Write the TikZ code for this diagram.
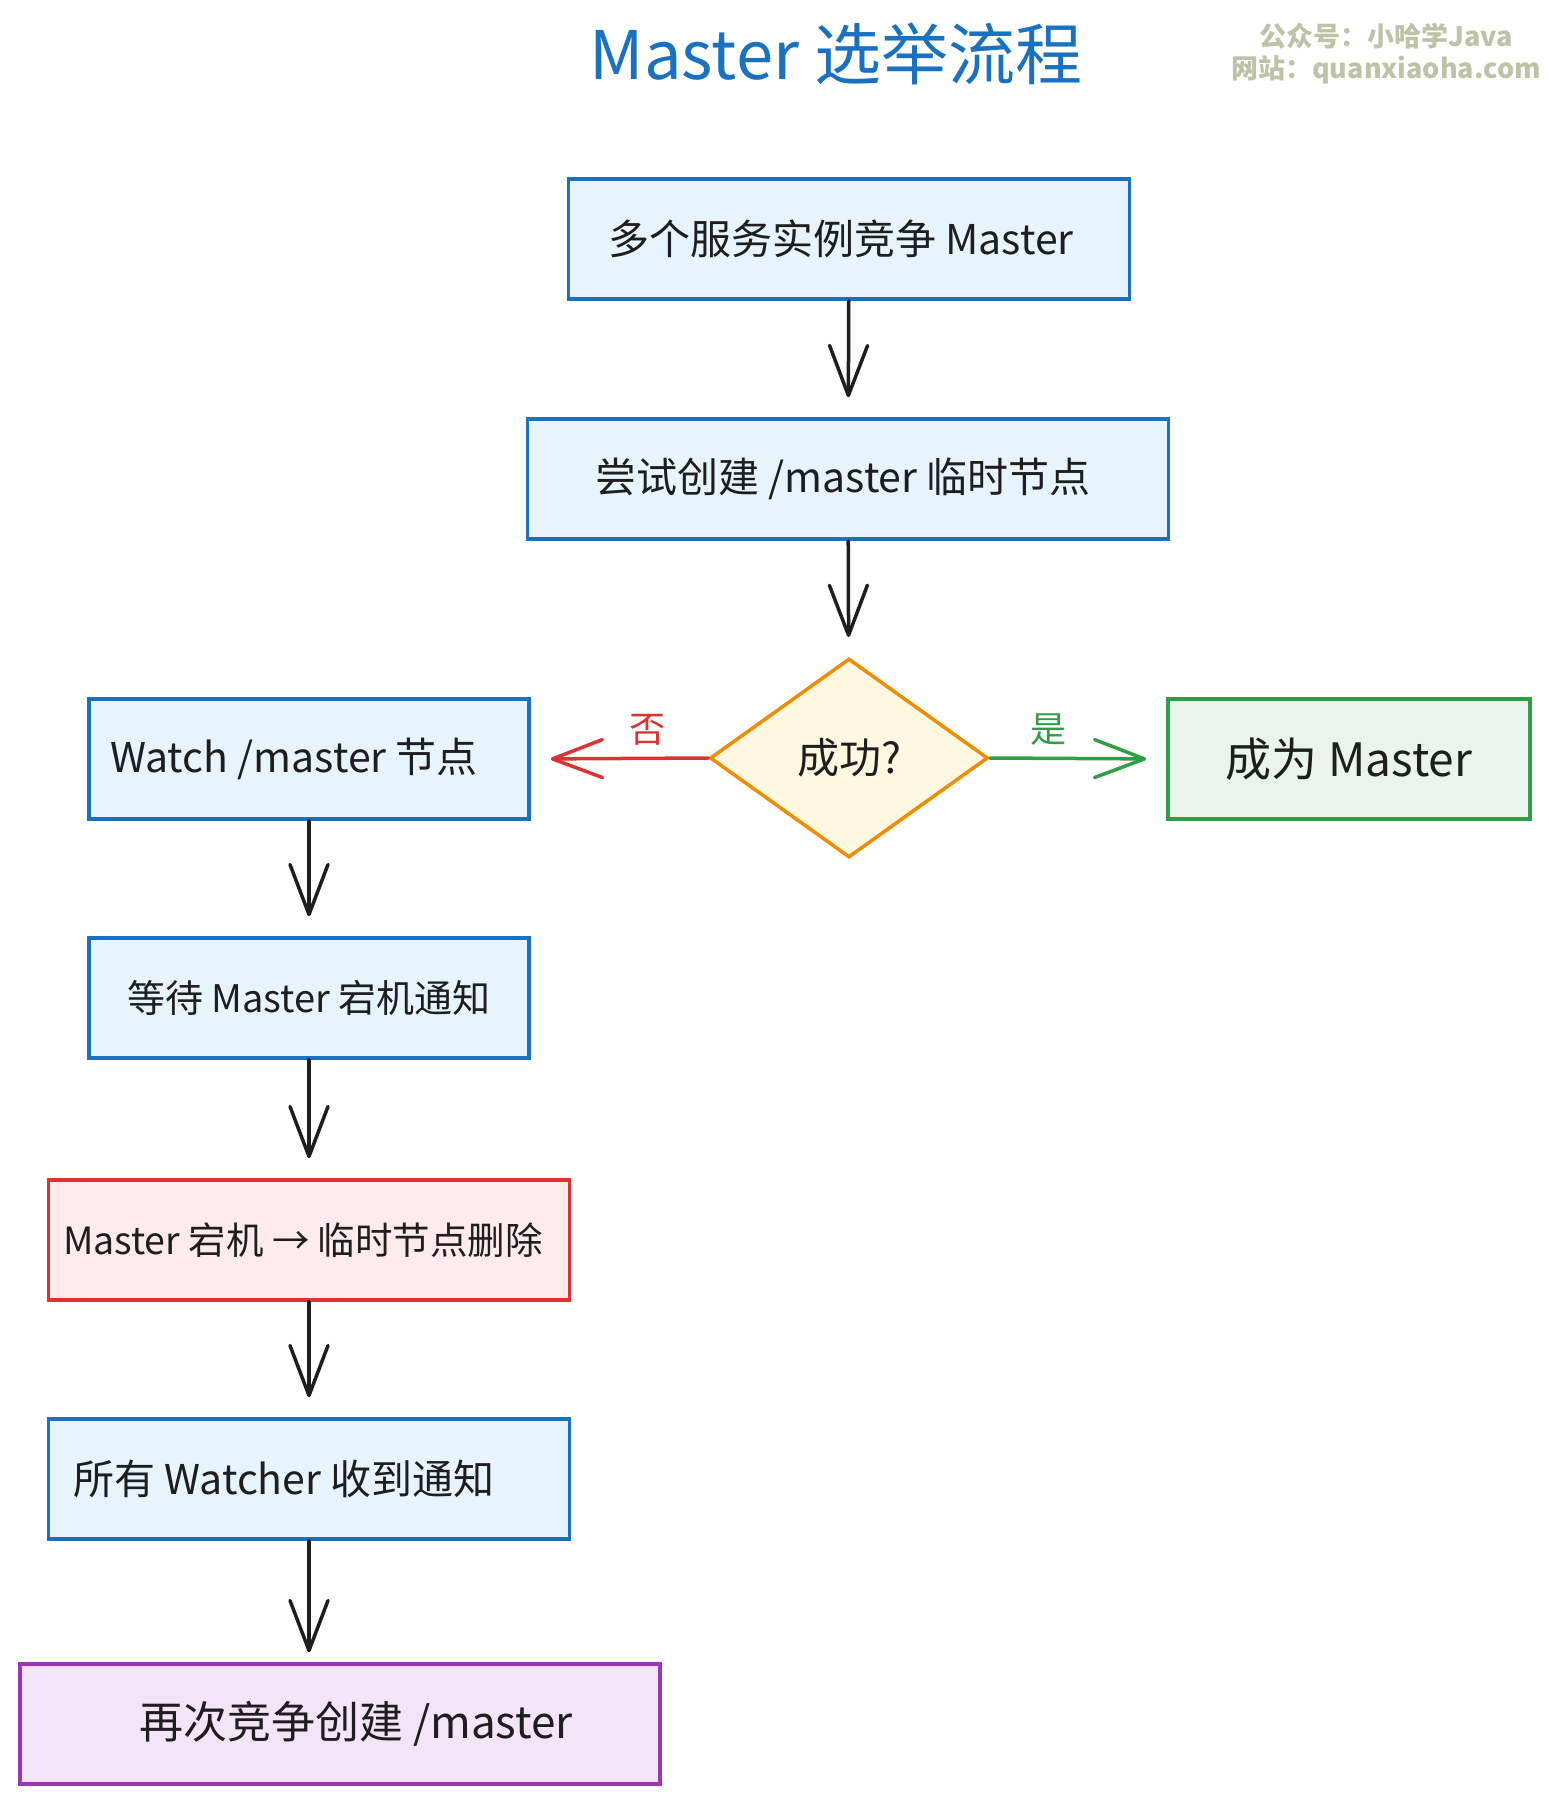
\documentclass[tikz,border=0pt]{standalone}
\usepackage{
	fontspec,			% System Fonts
	xcolor,
	tikz
}
\setmainfont{Noto Sans CJK SC}
\usetikzlibrary{arrows.meta,shapes.geometric}

\definecolor{inkdark}{HTML}{1E1E1E}
\definecolor{flowblue}{HTML}{1971C2}
\definecolor{flowbluefill}{HTML}{E7F3FD}
\definecolor{floworange}{HTML}{F08C00}
\definecolor{floworangefill}{HTML}{FFF8E0}
\definecolor{flowgreen}{HTML}{2F9E44}
\definecolor{flowgreenfill}{HTML}{E9F5EA}
\definecolor{flowred}{HTML}{E03131}
\definecolor{flowredfill}{HTML}{FFEAEC}
\definecolor{flowpurple}{HTML}{9C36B5}
\definecolor{flowpurplefill}{HTML}{F3E4F7}
\definecolor{markgray}{HTML}{BEC2A6}

\tikzset{
	stepbox/.style={draw=flowblue, fill=flowbluefill, line width=3.5pt, inner sep=0pt,
		minimum height=120pt, text=inkdark, font=\fontsize{41}{48}\selectfont},
	decide/.style={diamond, draw=floworange, fill=floworangefill, line width=3.5pt, inner sep=0pt,
		minimum width=278pt, minimum height=199pt, text=inkdark, font=\fontsize{42}{50}\selectfont},
	flow/.style={draw=inkdark, line width=3.5pt, line cap=round, line join=round,
		-{Straight Barb[length=50pt,width=38pt,line cap=round,line join=round]}, shorten >=20pt},
	branch/.style={font=\fontsize{36}{42}\selectfont}
}
% shift a label inside its box
\newcommand{\nudge}[2]{\hspace*{#1}#2}

\begin{document}
\begin{tikzpicture}[x=1pt,y=-1pt]
		\useasboundingbox (0,0) rectangle (1548,1803);
		\node[text=flowblue, font=\fontsize{67}{78}\selectfont] (title) at (836,54) {Master 选举流程};
		\node[text=markgray, font=\bfseries\fontsize{27}{32}\selectfont, align=center] (mark) at (1386,54)
			{公众号：小哈学Java\\网站：quanxiaoha.com};
		\node[stepbox, minimum width=561pt] (start) at (849,239) {\nudge{-16pt}{多个服务实例竞争 Master}};
		\node[stepbox, minimum width=641pt] (create) at (848,479) {\nudge{-10pt}{尝试创建 /master 临时节点}};
		\node[decide] (ok) at (849,758) {成功?};
		\node[stepbox, minimum width=440pt] (watch) at (309,759) {\nudge{-30pt}{Watch /master 节点}};
		\node[stepbox, minimum width=362pt, draw=flowgreen, fill=flowgreenfill, font=\fontsize{46}{54}\selectfont] (leader) at (1349,759) {成为 Master};
		\node[stepbox, minimum width=440pt, font=\fontsize{38}{46}\selectfont] (wait) at (309,998) {等待 Master 宕机通知};
		\node[stepbox, minimum width=521pt, draw=flowred, fill=flowredfill, font=\fontsize{37.5}{45}\selectfont] (down) at (309,1240) {\nudge{-12pt}{Master 宕机 → 临时节点删除}};
		\node[stepbox, minimum width=521pt] (notify) at (309,1479) {\nudge{-50pt}{所有 Watcher 收到通知}};
		\node[stepbox, minimum width=640pt, draw=flowpurple, fill=flowpurplefill, font=\fontsize{44}{52}\selectfont] (again) at (340,1724) {\nudge{32pt}{再次竞争创建 /master}};
		\draw[flow] (start) -- (create);
		\draw[flow] (create) -- (ok);
		\draw[flow, draw=flowred] (ok.west) -- node[branch, pos=0.34, above=8pt, text=flowred] {否} (watch.east);
		\draw[flow, draw=flowgreen] (ok.east) -- node[branch, pos=0.33, above=8pt, text=flowgreen] {是} (leader.west);
		\draw[flow] (watch) -- (wait);
		\draw[flow] (wait) -- (down);
		\draw[flow] (down) -- (notify);
		\draw[flow, shorten >=10pt] (notify.south) -- (notify.south |- again.north);
	\end{tikzpicture}
\end{document}
